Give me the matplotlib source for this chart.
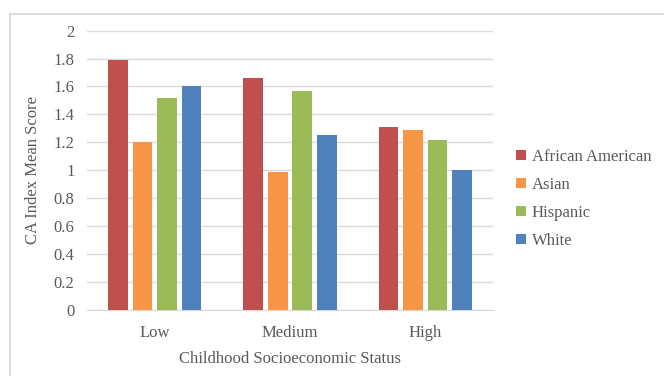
import numpy as np
import matplotlib.pyplot as plt
from matplotlib.patches import Rectangle

plt.rcParams['font.family'] = ['Liberation Serif', 'DejaVu Serif']

categories = ['Low', 'Medium', 'High']
groups = ['African American', 'Asian', 'Hispanic', 'White']
african_american = [1.79, 1.66, 1.31]
asian = [1.20, 0.99, 1.29]
hispanic = [1.52, 1.57, 1.22]
white = [1.60, 1.25, 1.00]
colors = ['#C0504D', '#F79646', '#9BBB59', '#4F81BD']

fig = plt.figure(figsize=(6.64, 3.76), dpi=100)
W, H = 664, 376
ax = fig.add_axes([87 / W, 1 - 309.7 / H, (493 - 87) / W, (309.7 - 30.7) / H])

# light chart-area frame, open on the right and bottom
fig.patches.append(Rectangle((10 / W, -0.1), 1.2, 1 - 14 / H + 0.1,
                             transform=fig.transFigure, fill=False,
                             edgecolor='#D9D9D9', linewidth=1.2))

x = np.arange(len(categories))
step = 0.181
width = 0.145
series = [african_american, asian, hispanic, white]
for i, (vals, name, c) in enumerate(zip(series, groups, colors)):
    ax.bar(x + (i - 1.5) * step, vals, width, color=c, label=name, zorder=3)

ax.set_xlim(-0.5, 2.5)
ax.set_ylim(0, 2)
ax.set_yticks(np.arange(0, 2.01, 0.2))
ax.set_yticklabels(['0', '0.2', '0.4', '0.6', '0.8', '1', '1.2', '1.4', '1.6', '1.8', '2'])
ax.set_xticks(x)
ax.set_xticklabels(categories)
ax.grid(axis='y', color='#D9D9D9', linewidth=1, zorder=0)
for s in ['top', 'right', 'left']:
    ax.spines[s].set_visible(False)
ax.spines['bottom'].set_color('#D9D9D9')
ax.tick_params(length=0, labelsize=12, colors='#595959')
ax.tick_params(axis='y', pad=9)
ax.tick_params(axis='x', pad=11)

ax.set_ylabel('CA Index Mean Score', fontsize=12, color='#595959', labelpad=9)
ax.set_xlabel('Childhood Socioeconomic Status', fontsize=12, color='#595959', labelpad=7)

leg = ax.legend(loc='center left', bbox_to_anchor=(1.02, 0.397), frameon=False,
                fontsize=12, handlelength=0.6, handleheight=0.6,
                handletextpad=0.35, labelspacing=0.72, labelcolor='#595959')

fig.savefig('out.png', dpi=100)
